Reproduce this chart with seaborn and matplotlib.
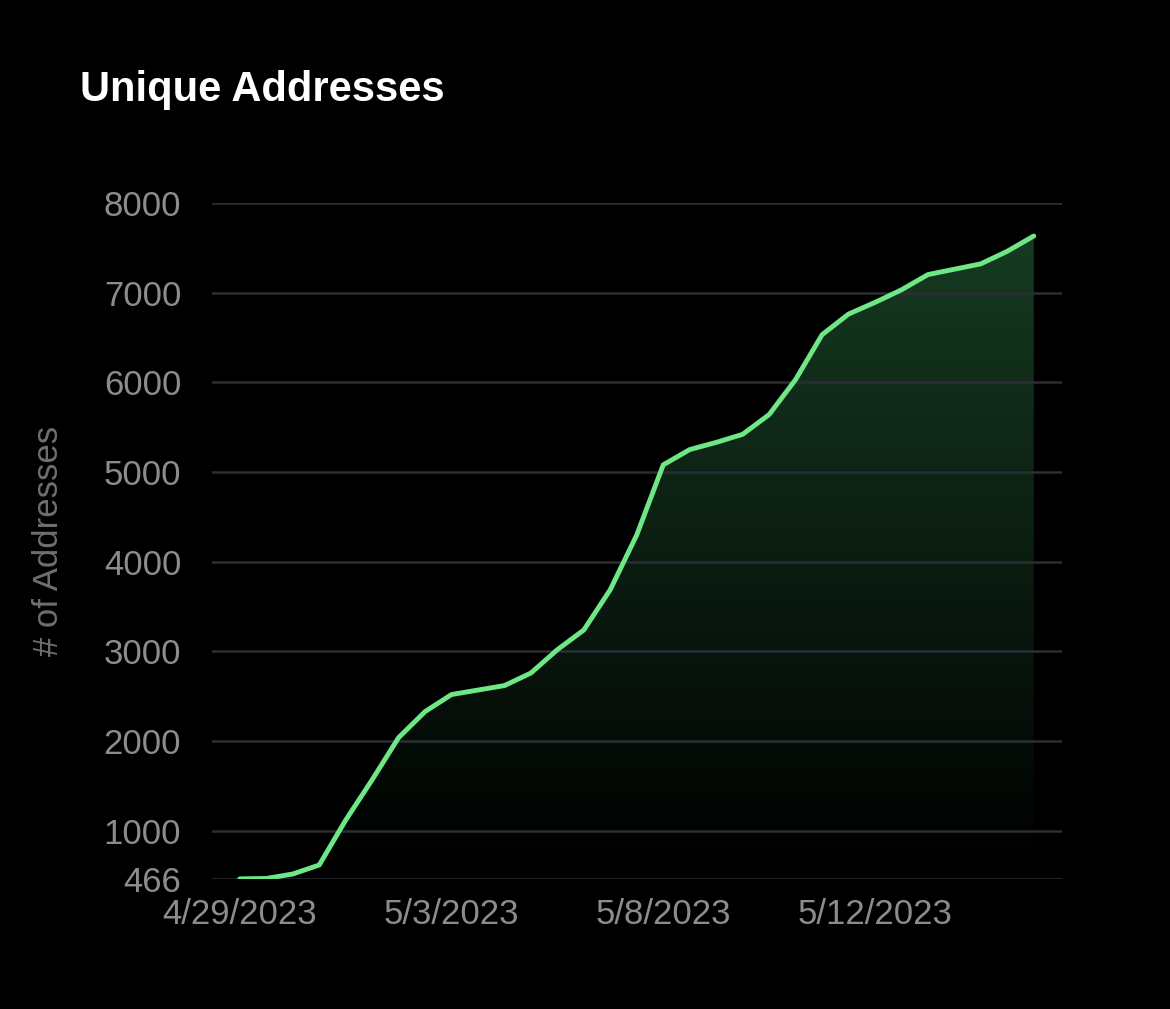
import matplotlib
matplotlib.use("Agg")
import matplotlib.pyplot as plt
import seaborn as sns
import numpy as np
import pandas as pd

# values (two points per date step)
step_index = list(range(31))
addresses = [466, 470, 520, 620, 1120, 1570, 2040, 2330, 2520, 2570,
             2620, 2760, 3020, 3240, 3690, 4300, 5080, 5250, 5330, 5420,
             5640, 6030, 6530, 6760, 6890, 7030, 7200, 7260, 7320, 7460,
             7630]
tick_pos = [0, 8, 16, 24]
tick_labels = ["4/29/2023", "5/3/2023", "5/8/2023", "5/12/2023"]
y_ticks = [466, 1000, 2000, 3000, 4000, 5000, 6000, 7000, 8000]

df = pd.DataFrame({"step": step_index, "addresses": addresses})

sns.set_style("dark")
plt.rcParams["font.family"] = ["Liberation Sans", "DejaVu Sans"]

fig = plt.figure(figsize=(11.7, 10.09), dpi=100, facecolor="black")
ax = fig.add_axes([0.181, 0.129, 0.727, 0.670], facecolor="black")

line_color = "#6ee787"
sns.lineplot(data=df, x="step", y="addresses", ax=ax, color=line_color,
             linewidth=3.5, solid_joinstyle="round", solid_capstyle="round")

# gradient fill under the line
poly = ax.fill_between(df["step"], df["addresses"], 466, color="none")
grad = np.linspace(0, 1, 256).reshape(-1, 1)
cmap = matplotlib.colors.LinearSegmentedColormap.from_list(
    "g", [(0.0, "#000000"), (1.0, "#163a22")])
img = ax.imshow(grad, cmap=cmap, aspect="auto", origin="lower",
                extent=[df["step"].min(), df["step"].max(), 466, max(addresses)], zorder=0)
img.set_clip_path(poly.get_paths()[0], transform=ax.transData)

ax.set_xlim(-1.06, 31.08)
ax.set_ylim(466, 8000)
ax.set_yticks(y_ticks)
ax.set_xticks(tick_pos)
ax.set_xticklabels(tick_labels)
ax.grid(False)
for v in y_ticks:
    ax.axhline(v, color="#2b2e36", linewidth=1.8, zorder=0.5)

for s in ax.spines.values():
    s.set_visible(False)
ax.tick_params(colors="#8c8c8c", labelsize=25, length=0)
ax.tick_params(axis="y", pad=22)
ax.tick_params(axis="x", pad=14)
ax.set_xlabel("")
ax.set_ylabel("# of Addresses", color="#6f6f6f", fontsize=25, labelpad=28)

fig.text(0.068, 0.911, "Unique Addresses", color="white", fontsize=30,
         fontweight="bold", va="center")

fig.savefig("out.png", dpi=100, facecolor="black")
